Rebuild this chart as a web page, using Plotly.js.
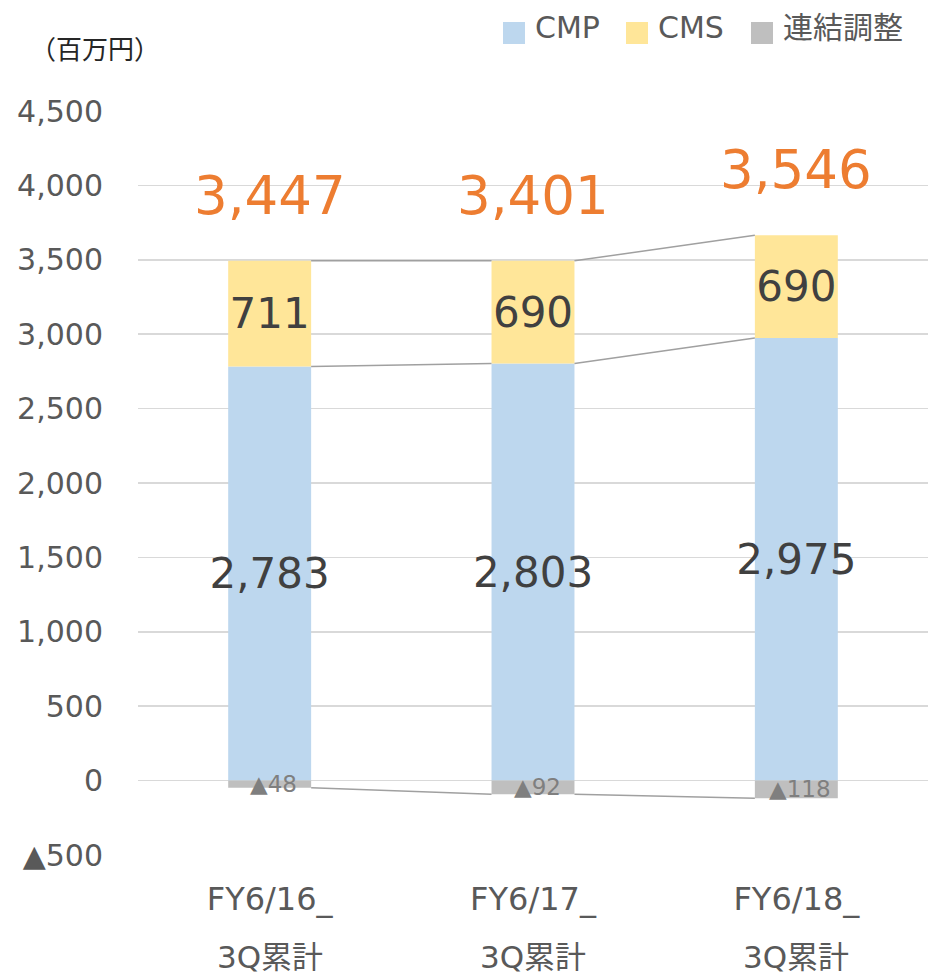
<!DOCTYPE html>
<html><head><meta charset="utf-8">
<script src="https://cdn.plot.ly/plotly-3.0.1.min.js"></script>
<style>body{margin:0;background:#fff}#c{width:928px;height:977px}</style>
</head><body><div id="c"></div>
<script>
const categories = ['FY6/16_', 'FY6/17_', 'FY6/18_'];
const categorySub = ['3Q累計', '3Q累計', '3Q累計'];
const seriesNames = ['CMP', 'CMS', '連結調整'];
const cmp = [2783, 2803, 2975];
const cms = [711, 690, 690];
const adj = [-48, -92, -118];
const totals = [3447, 3401, 3546];
const yTickVals = [-500, 0, 500, 1000, 1500, 2000, 2500, 3000, 3500, 4000, 4500];
const yTickText = ['▲500', '0', '500', '1,000', '1,500', '2,000', '2,500', '3,000', '3,500', '4,000', '4,500'];

const F = 'DejaVu Sans, Noto Sans CJK JP, sans-serif';
const colors = ['#BDD7EE', '#FFE699', '#BFBFBF'];
const xs = categories.map((_, i) => i);
const BW = 0.315;
const W = 928, H = 977, ML = 138, MR = 0, MT = 111, MB = 122;
const PW = W - ML - MR, PH = H - MT - MB;
const px = x => (x - ML) / PW;          // pixel -> paper x
const py = y => 1 - (y - MT) / PH;      // pixel -> paper y
const fmt = v => v.toLocaleString('en-US');
const fmtNeg = v => '▲' + Math.abs(v).toLocaleString('en-US');

const traces = [
  {type:'bar', name:seriesNames[0], x:xs, y:cmp, width:BW, marker:{color:colors[0]}, showlegend:false,
   text:cmp.map(fmt), textposition:'inside', insidetextanchor:'middle', textangle:0, constraintext:'none',
   textfont:{family:F, size:42, color:'#404040'}, hoverinfo:'skip', cliponaxis:false},
  {type:'bar', name:seriesNames[1], x:xs, y:cms, width:BW, marker:{color:colors[1]}, showlegend:false,
   text:cms.map(fmt), textposition:'inside', insidetextanchor:'middle', textangle:0, constraintext:'none',
   textfont:{family:F, size:42, color:'#404040'}, hoverinfo:'skip', cliponaxis:false},
  {type:'bar', name:seriesNames[2], x:xs, y:adj, width:BW, marker:{color:colors[2]}, showlegend:false,
   hoverinfo:'skip'}
];

function connector(vals) {
  const lx = [], ly = [];
  for (let i = 0; i < vals.length - 1; i++) {
    lx.push(xs[i] + BW/2, xs[i+1] - BW/2, null);
    ly.push(vals[i], vals[i+1], null);
  }
  return {type:'scatter', mode:'lines', x:lx, y:ly, showlegend:false,
    line:{color:'#A0A0A0', width:1.5}, hoverinfo:'skip', connectgaps:false};
}
const topStack = cmp.map((v, i) => v + cms[i]);
traces.push(connector(topStack), connector(cmp), connector(adj));

const annotations = [];
const shapes = [];
xs.forEach((x, i) => {
  annotations.push({x:x, y:topStack[i], xref:'x', yref:'y', text:fmt(totals[i]),
    showarrow:false, yanchor:'bottom', yshift:33,
    font:{family:F, size:53, color:'#ED7D31'}});
  annotations.push({x:x, y:adj[i]/2, xref:'x', yref:'y', text:fmtNeg(adj[i]),
    showarrow:false, yanchor:'middle', xshift:4,
    font:{family:F, size:23, color:'#7F7F7F'}});
  annotations.push({x:x, y:0, xref:'x', yref:'paper', text:categorySub[i],
    showarrow:false, yanchor:'middle', yshift:-102,
    font:{family:F, size:31, color:'#595959'}});
});
annotations.push({xref:'paper', yref:'paper', x:px(95), y:py(50),
  xanchor:'center', yanchor:'middle', text:'（百万円）', showarrow:false,
  font:{family:F, size:26, color:'#262626'}});

// custom legend (large square swatches)
const legendSwatchX = [503, 626, 751];
seriesNames.forEach((n, i) => {
  const sx = legendSwatchX[i];
  shapes.push({type:'rect', xref:'paper', yref:'paper', x0:px(sx), x1:px(sx + 22),
    y0:py(44), y1:py(22), fillcolor:colors[i], line:{width:0}});
  annotations.push({xref:'paper', yref:'paper', x:px(sx + 30), y:py(28), xanchor:'left', yanchor:'middle',
    text:n, showarrow:false, font:{family:F, size:30, color:'#595959'}});
});

const layout = {
  width:W, height:H,
  margin:{l:ML, r:MR, t:MT, b:MB},
  paper_bgcolor:'#fff', plot_bgcolor:'#fff',
  barmode:'relative',
  showlegend:false,
  xaxis:{range:[-0.5, 2.5], tickvals:xs, ticktext:categories, showgrid:false, zeroline:false,
    showline:false, ticks:'', ticklabelstandoff:22,
    tickfont:{family:F, size:32, color:'#595959'}},
  yaxis:{range:[-500, 4500], tickvals:yTickVals, ticktext:yTickText, showgrid:true,
    gridcolor:'#D9D9D9', gridwidth:1.5, zeroline:false, showline:false, ticks:'',
    ticklabelstandoff:34, tickfont:{family:F, size:30, color:'#595959'}},
  annotations:annotations,
  shapes:shapes
};
Plotly.newPlot('c', traces, layout, {displayModeBar:false, staticPlot:true});
</script></body></html>
